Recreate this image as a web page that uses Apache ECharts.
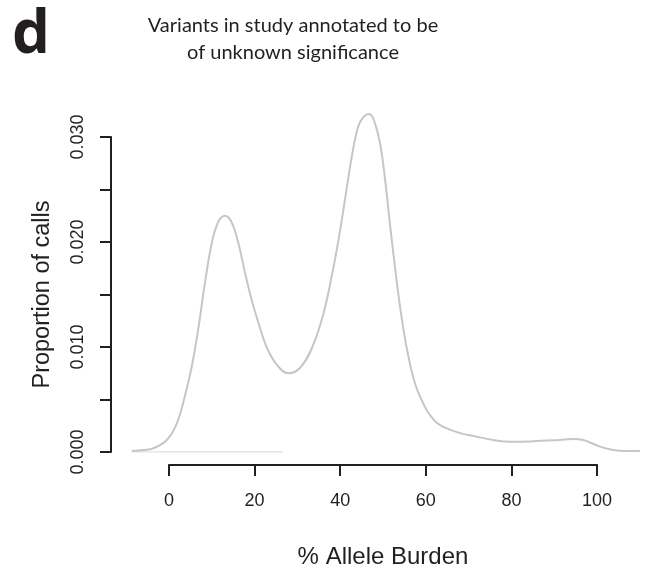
<!DOCTYPE html>
<html>
<head>
<meta charset="utf-8">
<script src="https://cdn.jsdelivr.net/npm/echarts@6/dist/echarts.min.js"></script>
<style>
  html, body { margin: 0; padding: 0; background: #fff; }
  #chart { width: 645px; height: 571px; }
</style>
</head>
<body>
<div id="chart"></div>
<script>
// Density estimate of allele burden for variants of unknown significance
const burden = [-8.7, -6, -3.7, -0.5, 1.8, 3.7, 5.3, 6.9, 8.4, 10, 11.5, 13.1, 14.6, 16.2, 17.8,
  19.3, 20.9, 22.8, 25.2, 27.9, 30.6, 33.5, 36.1, 38, 39.6, 41.1, 42.7, 44.2, 45.4, 46.6,
  47.7, 49.3, 50.5, 51.6, 52.8, 54, 55.5, 57.5, 59.8, 61, 62.5, 64.1, 68, 71.9, 75.8,
  79.7, 84.3, 89.8, 94.5, 96.8, 100.7, 103.8, 106.9, 110];
const proportion = [0.0001, 0.0002, 0.00035, 0.00114, 0.0027, 0.0053, 0.0081, 0.0119, 0.0161,
  0.0199, 0.0219, 0.0225, 0.0219, 0.0199, 0.0170, 0.0145, 0.0123, 0.0100, 0.0083, 0.0075,
  0.0080, 0.0100, 0.0132, 0.0167, 0.0202, 0.0240, 0.0281, 0.0310, 0.0319, 0.0322, 0.0318,
  0.0294, 0.0259, 0.0218, 0.0176, 0.0138, 0.0100, 0.0065, 0.0043, 0.0035, 0.0028, 0.0024,
  0.0018, 0.00146, 0.00114, 0.00098, 0.00101, 0.00111, 0.00124, 0.00114, 0.00051, 0.00019,
  0.0001, 0.0001];

// Short zero-level segment drawn under the left tail
const baseX = [-8.7, 26.6];
const baseY = [0, 0];

// Axis ticks
const xTicks = [0, 20, 40, 60, 80, 100];
const yLabelled = [0, 0.01, 0.02, 0.03];

// Plotting window (wider than the tick range, as in base R graphics)
const xWindow = [-13.55, 110];
const yWindow = [0, 0.035];

const ink = '#231f20';
const curveColor = '#c6c6c6';
const sans = '"Liberation Sans", Arial, Helvetica, sans-serif';

const chart = echarts.init(document.getElementById('chart'), null, { renderer: 'canvas' });

chart.setOption({
  backgroundColor: '#fff',
  animation: false,
  title: [
    {
      text: 'd',
      left: 7,
      top: 1,
      textStyle: { fontFamily: '"Open Sans", sans-serif', fontWeight: 'bold', fontSize: 60, color: ink }
    },
    {
      text: 'Variants in study annotated to be\nof unknown significance',
      left: 288,
      top: 7,
      textAlign: 'center',
      textStyle: { fontFamily: 'Lato, "Open Sans", sans-serif', fontWeight: 'normal', fontSize: 20,
        lineHeight: 27, color: ink }
    }
  ],
  grid: [
    // data window
    { left: 111, right: 5.2, top: 84.5, bottom: 119, containLabel: false, outerBoundsMode: 'none' },
    // tick range, where the axes are drawn
    { left: 169, right: 48, top: 137, bottom: 119, containLabel: false, outerBoundsMode: 'none' }
  ],
  xAxis: [
    {
      gridIndex: 0, type: 'value', min: xWindow[0], max: xWindow[1], show: false
    },
    {
      gridIndex: 1,
      type: 'value',
      min: xTicks[0],
      max: xTicks[xTicks.length - 1],
      interval: 20,
      offset: 13,
      name: '% Allele Burden',
      nameLocation: 'middle',
      nameGap: 80,
      nameTextStyle: { fontFamily: sans, fontSize: 24, color: ink },
      axisLine: { onZero: false, lineStyle: { color: ink, width: 2 } },
      axisTick: { length: 11, lineStyle: { color: ink, width: 2 } },
      axisLabel: { fontFamily: sans, fontSize: 18, color: ink, margin: 27 },
      splitLine: { show: false }
    }
  ],
  yAxis: [
    {
      gridIndex: 0, type: 'value', min: yWindow[0], max: yWindow[1], show: false
    },
    {
      gridIndex: 1,
      type: 'value',
      min: yLabelled[0],
      max: yLabelled[yLabelled.length - 1],
      interval: 0.005,
      offset: 58,
      name: 'Proportion of calls',
      nameLocation: 'middle',
      nameGap: 56,
      nameTextStyle: { fontFamily: sans, fontSize: 23.5, color: ink },
      axisLine: { show: true, onZero: false, lineStyle: { color: ink, width: 2 } },
      axisTick: { show: true, length: 11, lineStyle: { color: ink, width: 2 } },
      axisLabel: {
        fontFamily: sans, fontSize: 18, color: ink, rotate: 90, margin: 24,
        formatter: function (v) {
          const hit = yLabelled.some(function (t) { return Math.abs(t - v) < 1e-9; });
          return hit ? v.toFixed(3) : '';
        }
      },
      splitLine: { show: false }
    }
  ],
  series: [
    {
      type: 'line',
      xAxisIndex: 0,
      yAxisIndex: 0,
      data: baseX.map(function (x, i) { return [x, baseY[i]]; }),
      showSymbol: false,
      lineStyle: { color: '#cccccc', width: 1.2 },
      silent: true
    },
    {
      type: 'line',
      xAxisIndex: 0,
      yAxisIndex: 0,
      data: burden.map(function (x, i) { return [x, proportion[i]]; }),
      smooth: 0.4,
      showSymbol: false,
      lineStyle: { color: curveColor, width: 2 },
      silent: true
    }
  ]
});
</script>
</body>
</html>
